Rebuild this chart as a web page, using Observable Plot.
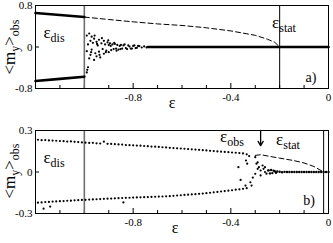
<!DOCTYPE html>
<html>
<head>
<meta charset="utf-8">
<script src="https://cdn.jsdelivr.net/npm/d3@7"></script>
<script src="https://cdn.jsdelivr.net/npm/@observablehq/plot@0.6"></script>
<style>
  html, body { margin: 0; padding: 0; background: white; }
  #chart svg { display: block; }
</style>
</head>
<body>
<div id="chart"></div>
<script>
// ---------- shared ticks ----------
const xMajor = [-0.8, -0.4, 0];
const xMinor = [-1.1, -1.0, -0.9, -0.7, -0.6, -0.5, -0.3, -0.2, -0.1];
const aYTicks = [-0.8, 0, 0.8];
const bYTicks = [-0.3, 0, 0.3];

// ---------- panel a ----------
const aEpsDis = -1.0;
const aEpsStat = -0.2;
const aUpperX = [-1.2, -1.1, -1.0];
const aUpperY = [0.655, 0.617, 0.577];
const aLowerX = [-1.2, -1.1, -1.0];
const aLowerY = [-0.655, -0.615, -0.572];
const aDashX = [-1.0, -0.9, -0.8, -0.7, -0.6, -0.5, -0.4, -0.3, -0.25, -0.22, -0.2];
const aDashY = [0.577, 0.53, 0.485, 0.445, 0.415, 0.37, 0.31, 0.225, 0.15, 0.09, 0.0];
const aZeroX = [-0.74, 0];
const aZeroY = [0, 0];
const aScatX = [-0.99,-0.99,-0.985,-0.98,-0.98,-0.975,-0.975,-0.97,-0.97,-0.965,-0.96,-0.96,-0.955,-0.95,-0.95,-0.945,-0.94,-0.94,-0.935,-0.93,-0.925,-0.92,-0.92,-0.915,-0.91,-0.905,-0.9,-0.9,-0.895,-0.89,-0.885,-0.88,-0.875,-0.87,-0.865,-0.86,-0.855,-0.85,-0.845,-0.84,-0.83,-0.82,-0.81,-0.8,-0.79,-0.78,-0.99,-0.988,-0.985,-0.972,-0.958,-0.948,-0.938,-0.928,-0.912,-0.902,-0.892,-0.878,-0.868,-0.852,-0.835,-0.825,-0.815,-0.805,-0.795,-0.785,-0.775,-0.765,-0.755,-0.745];
const aScatY = [0.22,-0.08,0.05,0.26,-0.22,0.12,-0.15,0.2,-0.05,0.08,-0.25,0.16,-0.12,0.1,-0.18,0.03,0.14,-0.09,-0.2,0.07,-0.04,0.12,-0.13,0.05,-0.07,0.09,-0.1,0.04,0.07,-0.06,0.05,-0.04,0.06,-0.03,0.04,-0.05,0.02,0.04,-0.03,0.03,-0.02,0.03,-0.03,0.02,-0.02,0.02,-0.49,-0.44,-0.39,-0.1,0.22,0.06,-0.15,0.17,-0.1,0.13,0.02,0.08,-0.07,-0.04,0.05,-0.04,0.01,-0.03,0.03,-0.015,0.015,-0.01,0.012,-0.008];

// ---------- panel b ----------
const bEpsDis = -1.0;
const bEpsStat = -0.02;
const bEpsObs = -0.278;
const bArrowY = [0.3, 0.19];
const bBranchX = [-1.19,-1.175,-1.16,-1.145,-1.13,-1.115,-1.10,-1.085,-1.07,-1.055,-1.04,-1.025,-1.01,-0.995,-0.98,-0.965,-0.95,-0.935,-0.92,-0.905,-0.89,-0.875,-0.86,-0.845,-0.83,-0.815,-0.80,-0.785,-0.77,-0.755,-0.74,-0.725,-0.71,-0.695,-0.68,-0.665,-0.65,-0.635,-0.62,-0.605,-0.59,-0.575,-0.56,-0.545,-0.53,-0.515,-0.50,-0.485,-0.47,-0.455,-0.44,-0.425,-0.41,-0.395,-0.38,-0.365,-0.35,-0.335];
const bUpperY = [0.233,0.230,0.231,0.228,0.227,0.226,0.224,0.223,0.220,0.221,0.218,0.216,0.214,0.212,0.210,0.211,0.207,0.206,0.219,0.204,0.203,0.201,0.199,0.198,0.195,0.194,0.193,0.191,0.190,0.188,0.187,0.184,0.183,0.181,0.179,0.178,0.175,0.173,0.171,0.170,0.168,0.166,0.164,0.162,0.160,0.158,0.156,0.153,0.151,0.149,0.147,0.145,0.143,0.141,0.139,0.137,0.134,0.128];
const bLowerY = [-0.222,-0.220,-0.217,-0.216,-0.214,-0.213,-0.211,-0.210,-0.208,-0.207,-0.205,-0.204,-0.202,-0.201,-0.199,-0.198,-0.197,-0.196,-0.194,-0.193,-0.192,-0.190,-0.189,-0.188,-0.187,-0.186,-0.185,-0.184,-0.183,-0.182,-0.181,-0.180,-0.179,-0.178,-0.177,-0.176,-0.175,-0.172,-0.170,-0.168,-0.166,-0.164,-0.162,-0.160,-0.158,-0.156,-0.153,-0.150,-0.147,-0.144,-0.141,-0.138,-0.135,-0.132,-0.128,-0.125,-0.121,-0.117];
const bOutX = [-1.167, -1.14, -0.84];
const bOutY = [-0.265, -0.25, -0.22];
const bTransX = [-0.369,-0.36,-0.338,-0.333,-0.34,-0.32,-0.315,-0.30,-0.295,-0.29,-0.29,-0.30,-0.285,-0.278,-0.27,-0.278,-0.266,-0.26,-0.26,-0.254,-0.248,-0.325,-0.31];
const bTransY = [0.035,-0.057,0.083,0.06,-0.098,-0.074,-0.098,0.107,0.06,0.07,0.023,-0.013,0.035,0.011,0.047,-0.025,0.023,0.0,0.035,-0.012,0.011,0.115,-0.04];
const bZeroX = [-0.245,-0.24,-0.235,-0.23,-0.225,-0.22,-0.215,-0.21,-0.20,-0.19,-0.18,-0.17,-0.16,-0.15,-0.14,-0.13,-0.12,-0.11,-0.10,-0.09,-0.08,-0.07,-0.06,-0.05,-0.04,-0.03,-0.02,-0.01,0.0];
const bZeroY = [0.012,-0.01,0.015,-0.008,0.01,0.005,-0.006,0.004,0.002,-0.002,0.001,0,0,0,0,0,0,0,0,0,0,0,0,0,0,0,0,0,0];
const bDashX = [-0.30, -0.278, -0.2, -0.143, -0.1, -0.06, -0.02];
const bDashY = [0.12, 0.125, 0.1, 0.083, 0.065, 0.04, 0.0];

const pts = (xs, ys) => xs.map((x, i) => ({x, y: ys[i]}));
const fmt = d => String(d);
const font = "Liberation Serif";
const W = 333;

function panel({height, marginTop, marginBottom, yDomain, yTicks, marks}) {
  const fh = height - marginTop - marginBottom;
  const fw = W - 35 - 5;
  return Plot.plot({
    width: W, height, marginLeft: 35, marginRight: 5, marginTop, marginBottom,
    x: {domain: [-1.2, 0], label: null},
    y: {domain: yDomain, label: null},
    style: {fontFamily: font, fontSize: "11px", color: "black", background: "white", overflow: "visible"},
    marks: [
      Plot.axisX(xMajor, {tickSize: 0, tickPadding: 5, tickFormat: fmt, fontSize: 11, label: null}),
      Plot.axisY(yTicks, {tickSize: 0, tickPadding: 3, tickFormat: fmt, fontSize: 11, label: null}),
      Plot.ruleX(xMinor, {insetTop: fh - 3, stroke: "black"}),
      Plot.ruleX(xMajor, {insetTop: fh - 5, stroke: "black"}),
      Plot.ruleY(yTicks, {insetRight: fw - 4, stroke: "black"}),
      ...marks,
      Plot.frame({stroke: "black", strokeWidth: 1})
    ]
  });
}

function sub(svg, x, y, main, subText, mainSize, subSize) {
  const t = d3.select(svg).append("text")
    .attr("x", x).attr("y", y)
    .attr("font-family", font).attr("fill", "black");
  t.append("tspan").attr("font-size", mainSize).text(main);
  t.append("tspan").attr("font-size", subSize).attr("dy", 4).text(subText);
  return t;
}

function yLabel(svg, cx, cy) {
  const t = d3.select(svg).append("text")
    .attr("transform", `translate(${cx},${cy}) rotate(-90)`)
    .attr("font-family", font).attr("fill", "black")
    .attr("text-anchor", "middle");
  t.append("tspan").attr("font-size", 17).text("<m");
  t.append("tspan").attr("font-size", 12).attr("dy", 4).text("y");
  t.append("tspan").attr("font-size", 17).attr("dy", -4).text(">");
  t.append("tspan").attr("font-size", 12).attr("dy", 4).text("obs");
}

function plainText(svg, x, y, s, size) {
  d3.select(svg).append("text").attr("x", x).attr("y", y)
    .attr("font-family", font).attr("font-size", size).attr("fill", "black").text(s);
}

// Panel a
const svgA = panel({
  height: 120, marginTop: 5, marginBottom: 32,
  yDomain: [-0.8, 0.8], yTicks: aYTicks,
  marks: [
    Plot.ruleX([aEpsDis], {stroke: "#6e6e6e", strokeWidth: 1.6}),
    Plot.ruleX([aEpsStat], {stroke: "black", strokeWidth: 1}),
    Plot.line(pts(aDashX, aDashY), {x: "x", y: "y", stroke: "black", strokeWidth: 1, strokeDasharray: "5,3"}),
    Plot.line(pts(aUpperX, aUpperY), {x: "x", y: "y", stroke: "black", strokeWidth: 2.6}),
    Plot.line(pts(aLowerX, aLowerY), {x: "x", y: "y", stroke: "black", strokeWidth: 2.6}),
    Plot.line(pts(aZeroX, aZeroY), {x: "x", y: "y", stroke: "black", strokeWidth: 2.6}),
    Plot.dot(pts(aScatX, aScatY), {x: "x", y: "y", r: 1.1, fill: "black", stroke: "none"})
  ]
});

// Panel b
const svgB = panel({
  height: 123, marginTop: 10, marginBottom: 30,
  yDomain: [-0.3, 0.3], yTicks: bYTicks,
  marks: [
    Plot.ruleX([bEpsDis], {stroke: "#6e6e6e", strokeWidth: 1.6}),
    Plot.ruleX([bEpsStat], {stroke: "black", strokeWidth: 1}),
    Plot.line(pts(bDashX, bDashY), {x: "x", y: "y", stroke: "black", strokeWidth: 1, strokeDasharray: "5,3"}),
    Plot.dot(pts(bBranchX, bUpperY), {x: "x", y: "y", r: 1.1, fill: "black", stroke: "none"}),
    Plot.dot(pts(bBranchX, bLowerY), {x: "x", y: "y", r: 1.1, fill: "black", stroke: "none"}),
    Plot.dot(pts(bOutX, bOutY), {x: "x", y: "y", r: 1.1, fill: "black", stroke: "none"}),
    Plot.dot(pts(bTransX, bTransY), {x: "x", y: "y", r: 1.1, fill: "black", stroke: "none"}),
    Plot.dot(pts(bZeroX, bZeroY), {x: "x", y: "y", r: 1.2, fill: "black", stroke: "none"}),
    Plot.arrow([{x: bEpsObs, y1: bArrowY[0], y2: bArrowY[1]}], {x1: "x", x2: "x", y1: "y1", y2: "y2", stroke: "black", strokeWidth: 1.3, headLength: 6})
  ]
});

// Annotations panel a
yLabel(svgA, 15, 47);
sub(svgA, 54, 38, "ε", "dis", 17, 12);
sub(svgA, 284, 28, "ε", "stat", 17, 12);
plainText(svgA, 311, 82, "a)", 14);
plainText(svgA, 172, 108, "ε", 16);

// Annotations panel b
yLabel(svgB, 15, 51);
sub(svgB, 54, 43, "ε", "dis", 17, 12);
sub(svgB, 232, 22, "ε", "obs", 17, 12);
sub(svgB, 288, 25, "ε", "stat", 17, 12);
plainText(svgB, 309, 85, "b)", 14);
plainText(svgB, 175, 113, "ε", 16);

document.getElementById("chart").append(svgA, svgB);
</script>
</body>
</html>
